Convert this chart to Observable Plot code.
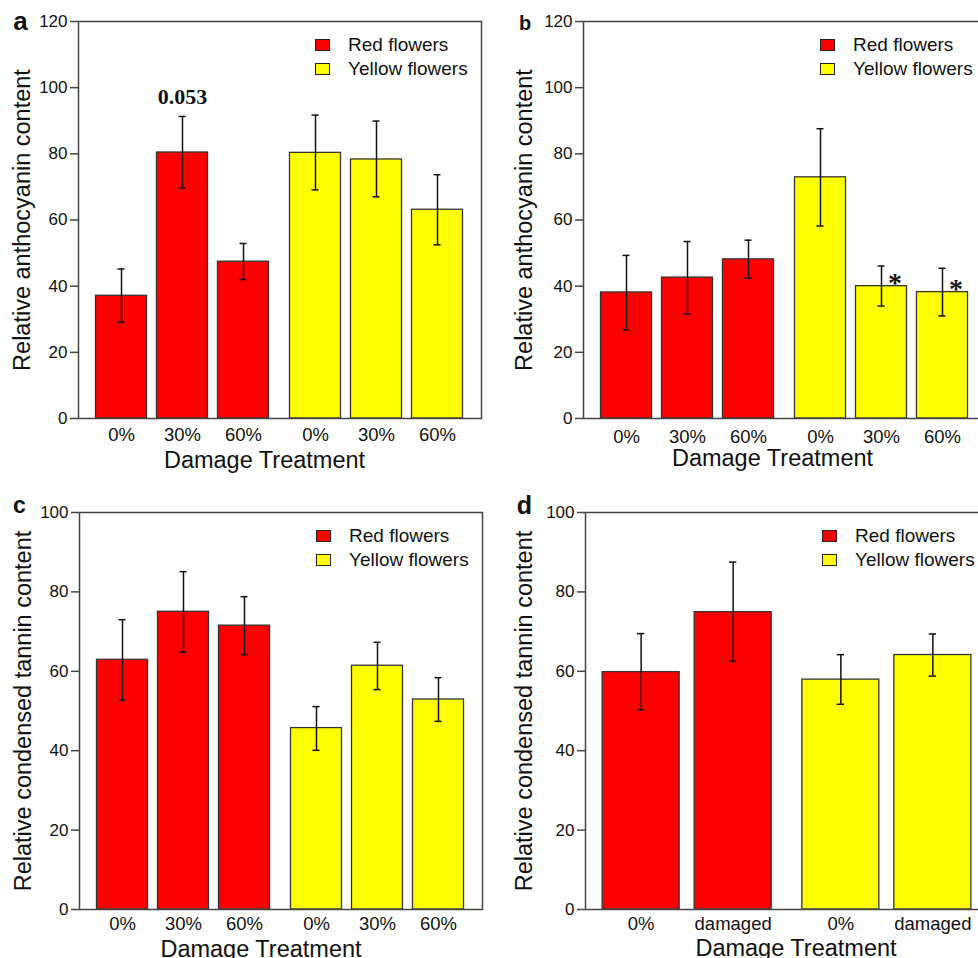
<!DOCTYPE html>
<html>
<head>
<meta charset="utf-8">
<script src="https://cdn.jsdelivr.net/npm/d3@7"></script>
<script src="https://cdn.jsdelivr.net/npm/@observablehq/plot@0.6"></script>
<style>
  body { margin: 0; background: #fff; }
  #chart { position: relative; width: 978px; height: 958px; overflow: hidden; font-family: "Liberation Sans", Arial, sans-serif; background: #fff; }
  .panel { position: absolute; width: 490px; height: 480px; }
  .panel svg { max-width: none !important; }
  .sw { position: absolute; width: 13px; height: 10px; border: 1px solid #222; }
  .lt { position: absolute; font-size: 19px; line-height: 22px; color: #111; white-space: nowrap; }
</style>
</head>
<body>
<div id="chart"></div>
<script>
// ---------- data ----------
const groups = ["Red flowers", "Yellow flowers"];
const groupColors = ["#ff0000", "#ffff00"];
const treatments3 = ["0%", "30%", "60%"];
const treatments2 = ["0%", "damaged"];
const xTitle = "Damage Treatment";

// Panel a: relative anthocyanin content (Red 0/30/60, Yellow 0/30/60)
const aMeans = [37.1, 80.4, 47.4, 80.3, 78.3, 63.1];
const aUpper = [45.2, 91.3, 52.9, 91.7, 89.9, 73.7];
const aLower = [29.1, 69.7, 42.0, 69.1, 67.0, 52.5];
const aNotes = ["", "0.053", "", "", "", ""];

// Panel b: relative anthocyanin content
const bMeans = [38.1, 42.6, 48.1, 72.9, 40.0, 38.2];
const bUpper = [49.3, 53.5, 53.9, 87.6, 46.1, 45.4];
const bLower = [26.8, 31.6, 42.4, 58.2, 34.0, 31.0];
const bStars = ["", "", "", "", "*", "*"];

// Panel c: relative condensed tannin content
const cMeans = [62.9, 75.0, 71.5, 45.7, 61.4, 52.9];
const cUpper = [73.0, 85.1, 78.8, 51.1, 67.3, 58.4];
const cLower = [52.7, 64.8, 64.2, 40.1, 55.4, 47.4];

// Panel d: relative condensed tannin content (0% vs damaged)
const dMeans = [59.8, 74.9, 57.9, 64.1];
const dUpper = [69.5, 87.5, 64.2, 69.4];
const dLower = [50.3, 62.5, 51.7, 58.8];

const ticks120 = [0, 20, 40, 60, 80, 100, 120];
const ticks100 = [0, 20, 40, 60, 80, 100];
const yTitleAntho = "Relative anthocyanin content";
const yTitleTannin = "Relative condensed tannin content";

// ---------- helpers ----------
function rowsFor(treatments, means, upper, lower, notes, stars) {
  const rows = [];
  groups.forEach((g, gi) => treatments.forEach((t, ti) => {
    const i = gi * treatments.length + ti;
    rows.push({key: g + "|" + t, group: g, gi, treatment: t, mean: means[i], hi: upper[i], lo: lower[i],
      note: notes ? notes[i] : "", star: stars ? stars[i] : ""});
  }));
  return rows;
}

const SANS = "'Liberation Sans', Arial, sans-serif";
const SERIF = "'Liberation Serif', 'Times New Roman', serif";

function panel(cfg) {
  const rows = rowsFor(cfg.treatments, cfg.means, cfg.upper, cfg.lower, cfg.notes, cfg.stars);
  const marks = [];
  groups.forEach((g, gi) => {
    const data = rows.filter(r => r.gi === gi);
    const dx = gi === 0 ? -cfg.shift : cfg.shift;
    marks.push(
      Plot.barY(data, {x: "key", y: "mean", fill: groupColors[gi], stroke: "#333", strokeWidth: 1.3, dx}),
      Plot.ruleX(data, {x: "key", y1: "lo", y2: "hi", stroke: "#111", strokeWidth: 1.5, dx}),
      Plot.tickY(data, {x: "key", y: "hi", insetLeft: cfg.capInset, insetRight: cfg.capInset, stroke: "#111", strokeWidth: 1.5, dx}),
      Plot.tickY(data, {x: "key", y: "lo", insetLeft: cfg.capInset, insetRight: cfg.capInset, stroke: "#111", strokeWidth: 1.5, dx}),
      Plot.text(data, {x: "key", text: "treatment", frameAnchor: "bottom", dy: cfg.tickDy, dx, fontSize: 18.5, fill: "#111", lineAnchor: "middle"}),
      Plot.text(data.filter(r => r.note), {x: "key", y: "hi", text: "note", dx, dy: -12.5, lineAnchor: "bottom",
        fontFamily: SERIF, fontWeight: "bold", fontSize: 22, fill: "#111"}),
      Plot.text(data.filter(r => r.star), {x: "key", y: "mean", text: "star", dx: dx + 13.5, dy: 5.5, lineAnchor: "bottom",
        fontFamily: SERIF, fontWeight: "bold", fontSize: 28, fill: "#111"})
    );
  });
  marks.push(
    Plot.frame({stroke: "#444", strokeWidth: 1.5}),
    Plot.axisY({ticks: cfg.yTicks, tickSize: 8, tickPadding: 3, fontSize: 17, label: null, stroke: "#444", strokeWidth: 1.5, fill: "#111"}),
    Plot.text([cfg.ylabel], {text: d => d, frameAnchor: "left", rotate: -90, dx: cfg.ylabelDx, fontSize: 23.5, fill: "#111", textAnchor: "middle", lineAnchor: "middle"}),
    Plot.text([xTitle], {text: d => d, frameAnchor: "bottom", dx: cfg.xlabelDx, dy: cfg.xlabelDy, fontSize: 23.5, fill: "#111", lineAnchor: "middle"}),
    Plot.text([cfg.letter], {text: d => d, frameAnchor: "top-left", dx: cfg.letterDx, dy: cfg.letterDy, fontSize: cfg.letterSize, fontWeight: "bold", fill: "#111", lineAnchor: "bottom", textAnchor: "middle"})
  );
  const svg = Plot.plot({
    width: 490, height: 480,
    marginLeft: 78, marginRight: 9, marginTop: 21, marginBottom: 62,
    x: {type: "band", domain: rows.map(r => r.key), paddingInner: cfg.pi, paddingOuter: cfg.po, axis: null},
    y: {domain: [0, cfg.yMax]},
    style: {fontFamily: SANS, background: "transparent", overflow: "visible", color: "#111", maxWidth: "none"},
    marks
  });
  const wrap = document.createElement("div");
  wrap.className = "panel";
  wrap.style.left = cfg.ox + "px";
  wrap.style.top = cfg.oy + "px";
  wrap.appendChild(svg);
  // legend
  groups.forEach((g, gi) => {
    const sw = document.createElement("div");
    sw.className = "sw";
    sw.style.left = "315px";
    sw.style.top = (39 + gi * 23.7) + "px";
    sw.style.background = groupColors[gi];
    wrap.appendChild(sw);
    const lt = document.createElement("div");
    lt.className = "lt";
    lt.style.left = "348px";
    lt.style.top = (34.2 + gi * 23.5) + "px";
    lt.textContent = g;
    wrap.appendChild(lt);
  });
  document.getElementById("chart").appendChild(wrap);
}

const geom3 = {treatments: treatments3, shift: 5.5, pi: 0.161, po: 0.3306, capInset: 22};
const geom2 = {treatments: treatments2, shift: 7.85, pi: 0.1645, po: 0.249, capInset: 34.85};

panel({...geom3, ox: 0, oy: 0, means: aMeans, upper: aUpper, lower: aLower, notes: aNotes,
  yMax: 120, yTicks: ticks120, ylabel: yTitleAntho, letter: "a", letterSize: 26, letterDx: -58, letterDy: 8.3,
  tickDy: 16.5, xlabelDx: -15.5, xlabelDy: 42, ylabelDx: -56});
panel({...geom3, ox: 505, oy: 0, means: bMeans, upper: bUpper, lower: bLower, stars: bStars,
  yMax: 120, yTicks: ticks120, ylabel: yTitleAntho, letter: "b", letterSize: 20, letterDx: -58.5, letterDy: 8,
  tickDy: 18.5, xlabelDx: -12.5, xlabelDy: 39.7, ylabelDx: -59});
panel({...geom3, ox: 1, oy: 491, means: cMeans, upper: cUpper, lower: cLower,
  yMax: 100, yTicks: ticks100, ylabel: yTitleTannin, letter: "c", letterSize: 23, letterDx: -60, letterDy: 0.7,
  tickDy: 14.7, xlabelDx: -20, xlabelDy: 40, ylabelDx: -56.5});
panel({...geom2, ox: 507, oy: 491, means: dMeans, upper: dUpper, lower: dLower,
  yMax: 100, yTicks: ticks100, ylabel: yTitleTannin, letter: "d", letterSize: 25, letterDx: -61, letterDy: 1,
  tickDy: 14.7, xlabelDx: 9, xlabelDy: 39.4, ylabelDx: -61});
</script>
</body>
</html>
